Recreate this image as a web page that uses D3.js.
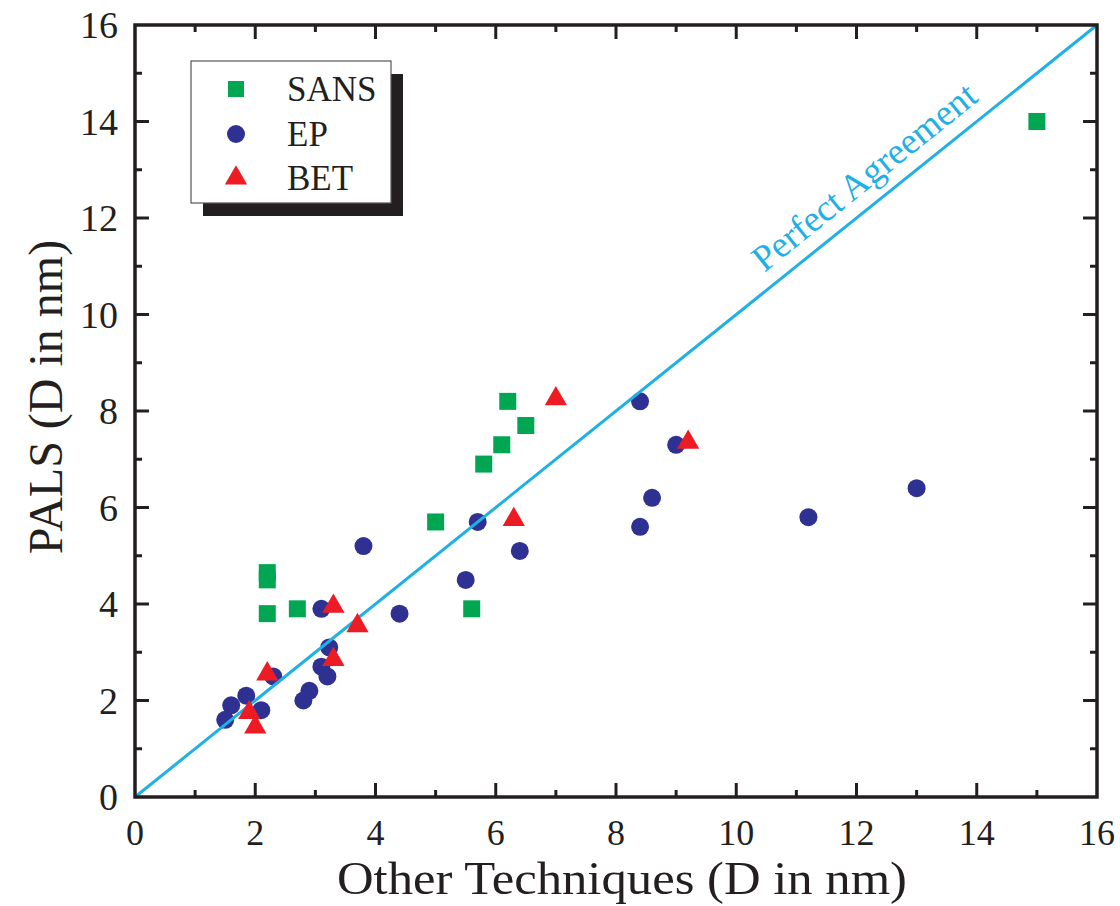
<!DOCTYPE html>
<html>
<head>
<meta charset="utf-8">
<script src="https://cdn.jsdelivr.net/npm/d3@7"></script>
<style>
  html, body { margin: 0; padding: 0; background: #fff; }
  svg { display: block; }
  text { font-family: "Liberation Serif", "Times New Roman", serif; }
</style>
</head>
<body>
<svg id="chart" width="1120" height="906"></svg>
<script>
// ---- data ----
const sansX = [15.0, 2.2, 2.2, 2.2, 2.7, 5.6, 5.0, 5.8, 6.1, 6.5, 6.2];
const sansY = [14.0, 4.65, 4.5, 3.8, 3.9, 3.9, 5.7, 6.9, 7.3, 7.7, 8.2];

const epX = [3.8, 6.4, 5.5, 3.1, 4.4, 3.23, 3.1, 3.2, 2.3, 2.9, 2.8, 1.85, 1.6, 1.5, 2.1, 8.4, 9.0, 8.6, 8.4, 5.7, 11.2, 13.0];
const epY = [5.2, 5.1, 4.5, 3.9, 3.8, 3.1, 2.7, 2.5, 2.5, 2.2, 2.0, 2.1, 1.9, 1.6, 1.8, 8.2, 7.3, 6.2, 5.6, 5.7, 5.8, 6.4];

const betX = [3.3, 3.7, 3.3, 2.2, 1.9, 2.0, 7.0, 9.2, 6.3];
const betY = [3.95, 3.55, 2.85, 2.55, 1.75, 1.45, 8.25, 7.35, 5.75];

const xTicks = [0, 2, 4, 6, 8, 10, 12, 14, 16];
const yTicks = [0, 2, 4, 6, 8, 10, 12, 14, 16];
const minorTicks = [1, 3, 5, 7, 9, 11, 13, 15];
const seriesNames = ["SANS", "EP", "BET"];
const xTitle = "Other Techniques (D in nm)";
const yTitle = "PALS (D in nm)";
const lineLabel = "Perfect Agreement";

// ---- layout ----
const svg = d3.select("#chart");
const pL = 135, pR = 1097, pT = 25, pB = 797;
const x = d3.scaleLinear().domain([0, 16]).range([pL, pR]);
const y = d3.scaleLinear().domain([0, 16]).range([pB, pT]);

const black = "#231f20";
const cGreen = "#00a651", cBlue = "#2e3192", cRed = "#ed1c24", cLine = "#1fb0e6";

const g = svg.append("g");

// symbols
const sqSize = 17 * 17;
const circR = 9;
const triPath = d3.symbol().type(d3.symbolTriangle).size(215)();
const sqPath = d3.symbol().type(d3.symbolSquare).size(sqSize)();

// SANS
g.append("g").selectAll("path").data(sansX.map((v, i) => [v, sansY[i]])).join("path")
  .attr("d", sqPath)
  .attr("transform", d => `translate(${x(d[0])},${y(d[1])})`)
  .attr("fill", cGreen);

// EP
g.append("g").selectAll("circle").data(epX.map((v, i) => [v, epY[i]])).join("circle")
  .attr("cx", d => x(d[0])).attr("cy", d => y(d[1])).attr("r", circR)
  .attr("fill", cBlue);

// Perfect agreement line
g.append("line")
  .attr("x1", x(0)).attr("y1", y(0)).attr("x2", x(16)).attr("y2", y(16))
  .attr("stroke", cLine).attr("stroke-width", 3);

// BET
g.append("g").selectAll("path").data(betX.map((v, i) => [v, betY[i]])).join("path")
  .attr("d", triPath)
  .attr("transform", d => `translate(${x(d[0])},${y(d[1])})`)
  .attr("fill", cRed);

// line label
const ang = Math.atan2(y(16) - y(0), x(16) - x(0)) * 180 / Math.PI;
g.append("text")
  .attr("transform", `translate(${x(10.62)},${y(10.62)}) rotate(${ang})`)
  .attr("x", 0).attr("y", -15)
  .attr("font-size", 37)
  .attr("fill", cLine)
  .text(lineLabel);

// frame
g.append("rect")
  .attr("x", pL).attr("y", pT).attr("width", pR - pL).attr("height", pB - pT)
  .attr("fill", "none").attr("stroke", black).attr("stroke-width", 3.5);

// ticks (inward, all four sides)
const majL = 14, minL = 7;
const tickG = g.append("g").attr("stroke", black).attr("stroke-width", 3);
function ticksX(vals, len) {
  vals.forEach(v => {
    tickG.append("line").attr("x1", x(v)).attr("x2", x(v)).attr("y1", pB).attr("y2", pB - len);
    tickG.append("line").attr("x1", x(v)).attr("x2", x(v)).attr("y1", pT).attr("y2", pT + len);
  });
}
function ticksY(vals, len) {
  vals.forEach(v => {
    tickG.append("line").attr("y1", y(v)).attr("y2", y(v)).attr("x1", pL).attr("x2", pL + len);
    tickG.append("line").attr("y1", y(v)).attr("y2", y(v)).attr("x1", pR).attr("x2", pR - len);
  });
}
ticksX(xTicks.slice(1, -1), majL);
ticksX(minorTicks, minL);
ticksY(yTicks.slice(1, -1), majL);
ticksY(minorTicks, minL);

// tick labels
g.append("g").selectAll("text").data(xTicks).join("text")
  .attr("x", d => x(d)).attr("y", pB + 48)
  .attr("text-anchor", "middle").attr("font-size", 36).attr("fill", black)
  .text(d => d);
g.append("g").selectAll("text").data(yTicks).join("text")
  .attr("x", pL - 17).attr("y", d => y(d) + 13)
  .attr("text-anchor", "end").attr("font-size", 38).attr("fill", black)
  .text(d => d);

// axis titles
g.append("text")
  .attr("x", 622).attr("y", 894)
  .attr("text-anchor", "middle").attr("font-size", 46).attr("fill", black)
  .attr("textLength", 570).attr("lengthAdjust", "spacingAndGlyphs")
  .text(xTitle);
g.append("text")
  .attr("transform", `translate(62,397) rotate(-90)`)
  .attr("text-anchor", "middle").attr("font-size", 48).attr("fill", black)
  .text(yTitle);

// legend
const lg = g.append("g");
const lx = 191, ly = 61, lw = 200, lh = 142;
lg.append("rect").attr("x", lx + 12).attr("y", ly + 13).attr("width", lw).attr("height", lh).attr("fill", black);
lg.append("rect").attr("x", lx).attr("y", ly).attr("width", lw).attr("height", lh)
  .attr("fill", "#fff").attr("stroke", "#555").attr("stroke-width", 1.2);
const legY = [89, 134, 178];
const legMarkX = 236;
lg.append("path").attr("d", d3.symbol().type(d3.symbolSquare).size(16 * 16)())
  .attr("transform", `translate(${legMarkX},${legY[0]})`).attr("fill", cGreen);
lg.append("circle").attr("cx", legMarkX).attr("cy", legY[1]).attr("r", 9).attr("fill", cBlue);
lg.append("path").attr("d", triPath)
  .attr("transform", `translate(${legMarkX},${legY[2]})`).attr("fill", cRed);
lg.selectAll("text.leg").data(seriesNames).join("text").attr("class", "leg")
  .attr("x", 287).attr("y", (d, i) => legY[i] + 12)
  .attr("font-size", 35).attr("fill", black)
  .text(d => d);
</script>
</body>
</html>
